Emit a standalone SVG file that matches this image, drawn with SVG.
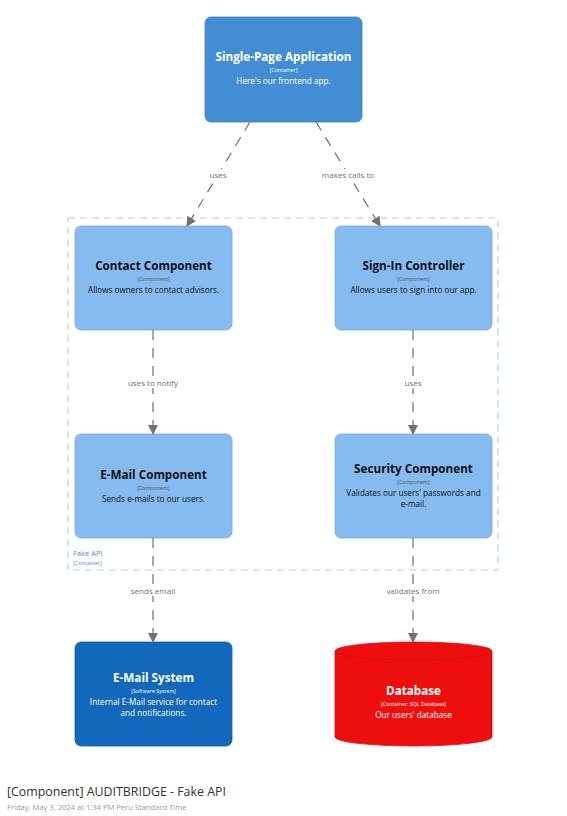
<svg xmlns="http://www.w3.org/2000/svg" width="567" height="816" viewBox="0 0 567 816">
<style>
text{font-family:"Open Sans","Noto Sans","Liberation Sans",sans-serif;text-anchor:middle}
.t{font-size:11.7px;font-weight:bold}
.s{font-size:5.3px}
.d{font-size:8.2px}
.dark{fill:#111}
.darks{fill:#555}
.w{fill:#fff}
.lbl{font-size:8px;fill:#707070}
.conn{stroke:#707070;stroke-width:1.2;stroke-dasharray:10,8;fill:none}
</style>
<defs>
<marker id="ah" markerWidth="10" markerHeight="10" refX="9" refY="5" orient="auto" markerUnits="userSpaceOnUse">
<path d="M0,0 L10,5 L0,10 z" fill="#707070"/>
</marker>
</defs>
<rect width="567" height="816" fill="#fff"/>
<g id="boundary">
<rect x="68" y="218" width="430" height="352" fill="none" stroke="#b6d2ee" stroke-width="1.2" stroke-dasharray="7,5"/>
<text x="73" y="556" style="text-anchor:start;font-size:7.5px;fill:#5a8cc8">Fake API</text>
<text x="73" y="565" style="text-anchor:start;font-size:5.5px;fill:#5a8cc8">[Container]</text>
</g>
<g id="spa">
<rect x="205" y="17" width="157" height="105" rx="6" fill="#438dd5" stroke="#3c7fc0" stroke-width="0.8"/>
<text x="283.5" y="61" class="t w">Single-Page Application</text>
<text x="283.5" y="72" class="s w">[Container]</text>
<text x="283.5" y="84" class="d w">Here's our frontend app.</text>
</g>
<g id="contact">
<rect x="75" y="226" width="157" height="104" rx="6" fill="#85bbf0" stroke="#78a8d8" stroke-width="0.8"/>
<text x="153.5" y="270" class="t dark">Contact Component</text>
<text x="153.5" y="281" class="s darks">[Component]</text>
<text x="153.5" y="293" class="d dark">Allows owners to contact advisors.</text>
</g>
<g id="signin">
<rect x="335" y="226" width="157" height="104" rx="6" fill="#85bbf0" stroke="#78a8d8" stroke-width="0.8"/>
<text x="413.5" y="270" class="t dark">Sign-In Controller</text>
<text x="413.5" y="281" class="s darks">[Component]</text>
<text x="413.5" y="293" class="d dark">Allows users to sign into our app.</text>
</g>
<g id="emailcomp">
<rect x="75" y="434" width="157" height="104" rx="6" fill="#85bbf0" stroke="#78a8d8" stroke-width="0.8"/>
<text x="153.5" y="479" class="t dark">E-Mail Component</text>
<text x="153.5" y="490" class="s darks">[Component]</text>
<text x="153.5" y="502" class="d dark">Sends e-mails to our users.</text>
</g>
<g id="security">
<rect x="335" y="434" width="157" height="104" rx="6" fill="#85bbf0" stroke="#78a8d8" stroke-width="0.8"/>
<text x="413.5" y="473" class="t dark">Security Component</text>
<text x="413.5" y="484" class="s darks">[Component]</text>
<text x="413.5" y="496" class="d dark">Validates our users' passwords and</text>
<text x="413.5" y="507" class="d dark">e-mail.</text>
</g>
<g id="emailsys">
<rect x="75" y="642" width="157" height="104" rx="6" fill="#1168bd" stroke="#0f5eaa" stroke-width="0.8"/>
<text x="153.5" y="682" class="t w">E-Mail System</text>
<text x="153.5" y="693" class="s w">[Software System]</text>
<text x="153.5" y="705" class="d w">Internal E-Mail service for contact</text>
<text x="153.5" y="716" class="d w">and notifications.</text>
</g>
<g id="database">
<path d="M335,651 A78.5,9 0 0 1 492,651 L492,737 A78.5,9 0 0 1 335,737 Z" fill="#ee0e0e" stroke="#d40c0c" stroke-width="0.8"/>
<path d="M335,651 A78.5,9 0 0 0 492,651" fill="none" stroke="#d40c0c" stroke-width="0.8"/>
<text x="413.5" y="695" class="t w">Database</text>
<text x="413.5" y="706" class="s w">[Container: SQL Database]</text>
<text x="413.5" y="718" class="d w">Our users' database</text>
</g>
<g id="connectors">
<line x1="250" y1="122" x2="187" y2="226" class="conn" marker-end="url(#ah)"/>
<line x1="316" y1="122" x2="380" y2="226" class="conn" marker-end="url(#ah)"/>
<line x1="153" y1="330" x2="153" y2="434" class="conn" marker-end="url(#ah)"/>
<line x1="413" y1="330" x2="413" y2="434" class="conn" marker-end="url(#ah)"/>
<line x1="153" y1="538" x2="153" y2="642" class="conn" marker-end="url(#ah)"/>
<line x1="413" y1="538" x2="413" y2="642" class="conn" marker-end="url(#ah)"/>
<rect x="205" y="169" width="26" height="11" fill="#fff"/>
<text x="218" y="178" class="lbl">uses</text>
<rect x="318" y="169" width="60" height="11" fill="#fff"/>
<text x="348" y="178" class="lbl">makes calls to</text>
<rect x="122" y="377" width="62" height="11" fill="#fff"/>
<text x="153" y="386" class="lbl">uses to notify</text>
<rect x="401" y="377" width="24" height="11" fill="#fff"/>
<text x="413" y="386" class="lbl">uses</text>
<rect x="127" y="585" width="52" height="11" fill="#fff"/>
<text x="153" y="594" class="lbl">sends email</text>
<rect x="384" y="585" width="58" height="11" fill="#fff"/>
<text x="413" y="594" class="lbl">validates from</text>
</g>
<g id="footer">
<text x="7" y="796" style="text-anchor:start;font-size:12.4px;fill:#333">[Component] AUDITBRIDGE - Fake API</text>
<text x="7" y="810" style="text-anchor:start;font-size:7.6px;fill:#999">Friday, May 3, 2024 at 1:34 PM Peru Standard Time</text>
</g>
</svg>
